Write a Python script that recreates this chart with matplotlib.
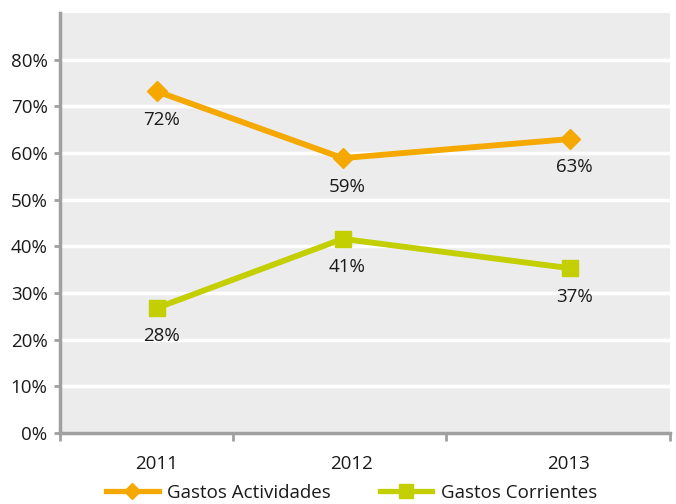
import matplotlib
matplotlib.use("Agg")
import matplotlib.pyplot as plt
from matplotlib.lines import Line2D

years = ["2011", "2012", "2013"]
# category centres and boundaries as drawn in the source (uneven)
x_pos = [0.477, 1.39, 2.51]
year_label_x = [0.477, 1.435, 2.50]
x_bounds = [0.0, 0.85, 1.90, 3.0]

actividades = [73.2, 58.9, 63.0]
corrientes = [26.8, 41.6, 35.3]
actividades_lbl = ["72%", "59%", "63%"]
corrientes_lbl = ["28%", "41%", "37%"]

ORANGE = "#f5a800"
GREEN = "#c3cf00"
AXIS = "#a0a0a0"
TEXT = "#1a1a1a"
FS = 13.5

plt.rcParams["font.family"] = ["Open Sans", "DejaVu Sans"]

fig = plt.figure(figsize=(6.76, 5.04), dpi=100)
ax = fig.add_axes([60 / 676, 1 - 433 / 504, 610 / 676, 420 / 504])
ax.set_facecolor("#ebeceb")
ax.set_xlim(0, 3)
ax.set_ylim(0, 90)

for v in range(10, 90, 10):
    ax.axhline(v, color="white", lw=2.5, zorder=1)

ax.plot(x_pos, actividades, color=ORANGE, lw=4.2, marker="D", ms=10.5,
        zorder=3, solid_capstyle="round")
ax.plot(x_pos, corrientes, color=GREEN, lw=4.2, marker="s", ms=11,
        zorder=3, solid_capstyle="round")

for x, y, t in zip(x_pos, actividades, actividades_lbl):
    ax.annotate(t, (x, y), xytext=(3, -27), textcoords="offset points",
                ha="center", va="bottom", fontsize=FS, color=TEXT)
for x, y, t in zip(x_pos, corrientes, corrientes_lbl):
    ax.annotate(t, (x, y), xytext=(3, -27), textcoords="offset points",
                ha="center", va="bottom", fontsize=FS, color=TEXT)

ax.set_yticks(range(0, 90, 10))
ax.set_yticklabels([f"{v}%" for v in range(0, 90, 10)], fontsize=FS,
                   color=TEXT)
ax.set_xticks(x_bounds)
ax.set_xticklabels([])
ax.set_xticks(year_label_x, minor=True)
ax.set_xticklabels(years, minor=True, fontsize=FS, color=TEXT)
ax.tick_params(axis="x", which="minor", length=0, pad=16)
ax.tick_params(axis="x", which="major", length=6, width=2, color=AXIS)
ax.tick_params(axis="y", length=4, width=2, color=AXIS, pad=5)

for s in ["top", "right"]:
    ax.spines[s].set_visible(False)
for s in ["left", "bottom"]:
    ax.spines[s].set_color(AXIS)
    ax.spines[s].set_linewidth(2.5)

handles = [
    Line2D([], [], color=ORANGE, lw=3.8, marker="D", ms=8),
    Line2D([], [], color=GREEN, lw=3.8, marker="s", ms=10),
]
leg = fig.legend(handles, ["Gastos Actividades", "Gastos Corrientes"],
                 loc="center", bbox_to_anchor=(0.52, 1 - 493 / 504), ncol=2,
                 frameon=False, fontsize=FS, handlelength=2.8,
                 columnspacing=2.6, handletextpad=0.45)
for t in leg.get_texts():
    t.set_color(TEXT)

fig.savefig("out.png", dpi=100)
